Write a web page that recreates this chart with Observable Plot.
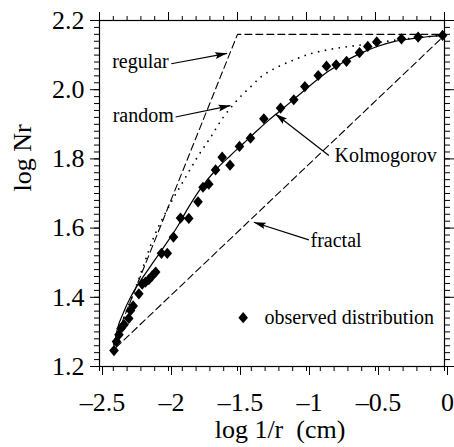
<!DOCTYPE html>
<html>
<head>
<meta charset="utf-8">
<script src="https://cdn.jsdelivr.net/npm/d3@7"></script>
<script src="https://cdn.jsdelivr.net/npm/@observablehq/plot@0.6"></script>
<style>
  html, body { margin: 0; padding: 0; background: white; }
</style>
</head>
<body>
<div id="chart"></div>
<script>
// ---- data ----
const obsX = [-2.395,-2.377,-2.359,-2.344,-2.322,-2.288,-2.275,-2.256,-2.215,-2.191,-2.167,-2.143,-2.118,-2.093,-2.051,-2.009,-1.964,-1.913,-1.853,-1.786,-1.750,-1.708,-1.659,-1.611,-1.554,-1.486,-1.406,-1.309,-1.188,-1.092,-1.012,-0.915,-0.855,-0.785,-0.710,-0.616,-0.556,-0.491,-0.312,-0.191,-0.014];
const obsY = [1.246,1.272,1.292,1.310,1.321,1.339,1.362,1.375,1.410,1.438,1.444,1.451,1.462,1.473,1.527,1.527,1.574,1.629,1.628,1.676,1.718,1.727,1.768,1.805,1.782,1.836,1.860,1.916,1.947,1.971,2.009,2.041,2.068,2.072,2.082,2.107,2.125,2.138,2.147,2.152,2.157];

const kolmX = [-2.396,-2.372,-2.324,-2.275,-2.203,-2.130,-2.034,-1.937,-1.864,-1.780,-1.647,-1.551,-1.454,-1.357,-1.273,-1.212,-1.092,-0.971,-0.850,-0.730,-0.609,-0.488,-0.367,-0.246,-0.125,-0.010];
const kolmY = [1.258,1.306,1.358,1.400,1.448,1.490,1.545,1.603,1.654,1.707,1.773,1.810,1.846,1.882,1.912,1.932,1.972,2.013,2.051,2.080,2.105,2.125,2.139,2.147,2.153,2.157];

const randX = [-2.395,-2.312,-2.227,-2.107,-1.986,-1.889,-1.792,-1.696,-1.609,-1.536,-1.471,-1.406,-1.333,-1.212,-1.092,-0.971,-0.850,-0.730,-0.609,-0.319,-0.010];
const randY = [1.266,1.353,1.440,1.573,1.671,1.738,1.804,1.862,1.917,1.954,1.983,2.008,2.036,2.065,2.086,2.104,2.115,2.123,2.129,2.145,2.157];

const regX = [-2.40, -1.50, 0.0];
const regY = [1.265, 2.160, 2.160];

const fracX = [-2.38, 0.0];
const fracY = [1.255, 2.157];

const xTicks = [-2.5, -2, -1.5, -1, -0.5, 0];
const xTickLabels = ["\u20132.5", "\u20132", "\u20131.5", "\u20131", "\u20130.5", "0"];
const yTicks = [1.2, 1.4, 1.6, 1.8, 2.0, 2.2];
const yTickLabels = ["1.2", "1.4", "1.6", "1.8", "2.0", "2.2"];

const labelText = ["regular", "random", "Kolmogorov", "fractal"];
const labelX = [-1.998, -1.962, -0.797, -0.971];
const labelY = [2.080, 1.925, 1.810, 1.564];
const labelAnchor = ["end", "end", "start", "start"];
const arrowX1 = [-1.980, -1.949, -0.838, -0.983];
const arrowY1 = [2.075, 1.921, 1.810, 1.566];
const arrowX2 = [-1.575, -1.551, -1.225, -1.382];
const arrowY2 = [2.105, 1.954, 1.930, 1.617];

const legendText = ["observed distribution"];
const legendX = [-1.459];
const legendY = [1.341];
const legendTextX = [-1.304];

const xLabel = "log 1/r  (cm)";
const yLabel = "log Nr";

// ---- layout ----
const W = 454, H = 447;
const mL = 99, mR = 10, mT = 20, mB = 81;
const font = "'Liberation Serif', 'Times New Roman', serif";

const xs = Plot.scale({x: {domain: [-2.5, 0], range: [mL, W - mR]}});
const ys = Plot.scale({y: {domain: [1.2, 2.2], range: [H - mB, mT]}});

const zip = (xa, ya) => xa.map((x, i) => ({x, y: ya[i]}));
const observed = zip(obsX, obsY);
const kolm = zip(kolmX, kolmY);
const rand = zip(randX, randY);
const reg = zip(regX, regY);
const frac = zip(fracX, fracY);

const annotations = labelText.map((t, i) => {
  const dx = xs.apply(arrowX2[i]) - xs.apply(arrowX1[i]);
  const dy = ys.apply(arrowY2[i]) - ys.apply(arrowY1[i]);
  return {
    text: t, x: labelX[i], y: labelY[i], anchor: labelAnchor[i],
    x1: arrowX1[i], y1: arrowY1[i], x2: arrowX2[i], y2: arrowY2[i],
    angle: Math.atan2(dy, dx) * 180 / Math.PI
  };
});
const legend = legendText.map((t, i) => ({text: t, x: legendX[i], y: legendY[i], tx: legendTextX[i]}));

const xMinor = d3.range(-25, 1).map(i => i / 10);
const yMinor = d3.range(60, 111).map(i => i / 50);

const xFmt = new Map(xTicks.map((d, i) => [d, xTickLabels[i]]));
const yFmt = new Map(yTicks.map((d, i) => [d, yTickLabels[i]]));

// custom symbols
const diamondSym = {
  draw(ctx, size) {
    const w = 4.8, h = 5.6;
    ctx.moveTo(0, -h); ctx.lineTo(w, 0); ctx.lineTo(0, h); ctx.lineTo(-w, 0); ctx.closePath();
  }
};
const headSym = {
  draw(ctx, size) {
    const L = 12, hw = 3.4;
    ctx.moveTo(0, 0); ctx.lineTo(-L, -hw); ctx.lineTo(-L + 2, 0); ctx.lineTo(-L, hw); ctx.closePath();
  }
};

const chart = Plot.plot({
  width: W, height: H,
  marginLeft: mL, marginRight: mR, marginTop: mT, marginBottom: mB,
  x: {domain: [-2.5, 0], label: null},
  y: {domain: [1.2, 2.2], label: null},
  style: {fontFamily: font, background: "white", color: "black", overflow: "visible"},
  marks: [
    // axes: majors
    Plot.axisX(xTicks, {anchor: "bottom", tickSize: 9, tickPadding: 17, fontSize: 26, tickFormat: d => xFmt.get(d), label: null, dx: 3}),
    Plot.axisX(xTicks, {anchor: "top", tickSize: 9, tickFormat: () => "", label: null}),
    Plot.axisY(yTicks, {anchor: "left", tickSize: 9, tickPadding: 6, fontSize: 26, tickFormat: d => yFmt.get(d), label: null}),
    Plot.axisY(yTicks, {anchor: "right", tickSize: 9, tickFormat: () => "", label: null}),
    // axes: minors
    Plot.axisX(xMinor, {anchor: "bottom", tickSize: 5, tickFormat: () => "", label: null}),
    Plot.axisX(xMinor, {anchor: "top", tickSize: 5, tickFormat: () => "", label: null}),
    Plot.axisY(yMinor, {anchor: "left", tickSize: 5, tickFormat: () => "", label: null}),
    Plot.axisY(yMinor, {anchor: "right", tickSize: 5, tickFormat: () => "", label: null}),
    Plot.frame({stroke: "black", strokeWidth: 1.2}),
    // model curves
    Plot.line(reg, {x: "x", y: "y", stroke: "black", strokeWidth: 1.1, strokeDasharray: "7,4"}),
    Plot.line(frac, {x: "x", y: "y", stroke: "black", strokeWidth: 1.1, strokeDasharray: "7,4"}),
    Plot.line(rand, {x: "x", y: "y", stroke: "black", strokeWidth: 1.8, strokeDasharray: "0,7", strokeLinecap: "round", curve: "monotone-x"}),
    Plot.line(kolm, {x: "x", y: "y", stroke: "black", strokeWidth: 1.2, curve: "monotone-x"}),
    // observed points
    Plot.dot(observed, {x: "x", y: "y", symbol: diamondSym, r: 5, fill: "black", stroke: "none"}),
    // annotations
    Plot.link(annotations, {x1: "x1", y1: "y1", x2: "x2", y2: "y2", stroke: "black", strokeWidth: 1.2}),
    Plot.dot(annotations, {x: "x2", y: "y2", symbol: headSym, r: 6, rotate: "angle", fill: "black", stroke: "none"}),
    Plot.text(annotations, {filter: d => d.anchor === "end", x: "x", y: "y", text: "text", textAnchor: "end", fontSize: 20, fill: "black"}),
    Plot.text(annotations, {filter: d => d.anchor === "start", x: "x", y: "y", text: "text", textAnchor: "start", fontSize: 20, fill: "black"}),
    // legend
    Plot.dot(legend, {x: "x", y: "y", symbol: diamondSym, r: 5, fill: "black", stroke: "none"}),
    Plot.text(legend, {x: "tx", y: "y", text: "text", textAnchor: "start", fontSize: 20, fill: "black"}),
    // axis titles
    Plot.text([xLabel], {frameAnchor: "bottom", text: d => d, dy: 71, dx: 8, fontSize: 26, fill: "black"}),
    Plot.text([yLabel], {frameAnchor: "left", text: d => d, rotate: -90, dx: -77, dy: -2, fontSize: 26, fill: "black"})
  ]
});
document.getElementById("chart").appendChild(chart);
</script>
</body>
</html>
